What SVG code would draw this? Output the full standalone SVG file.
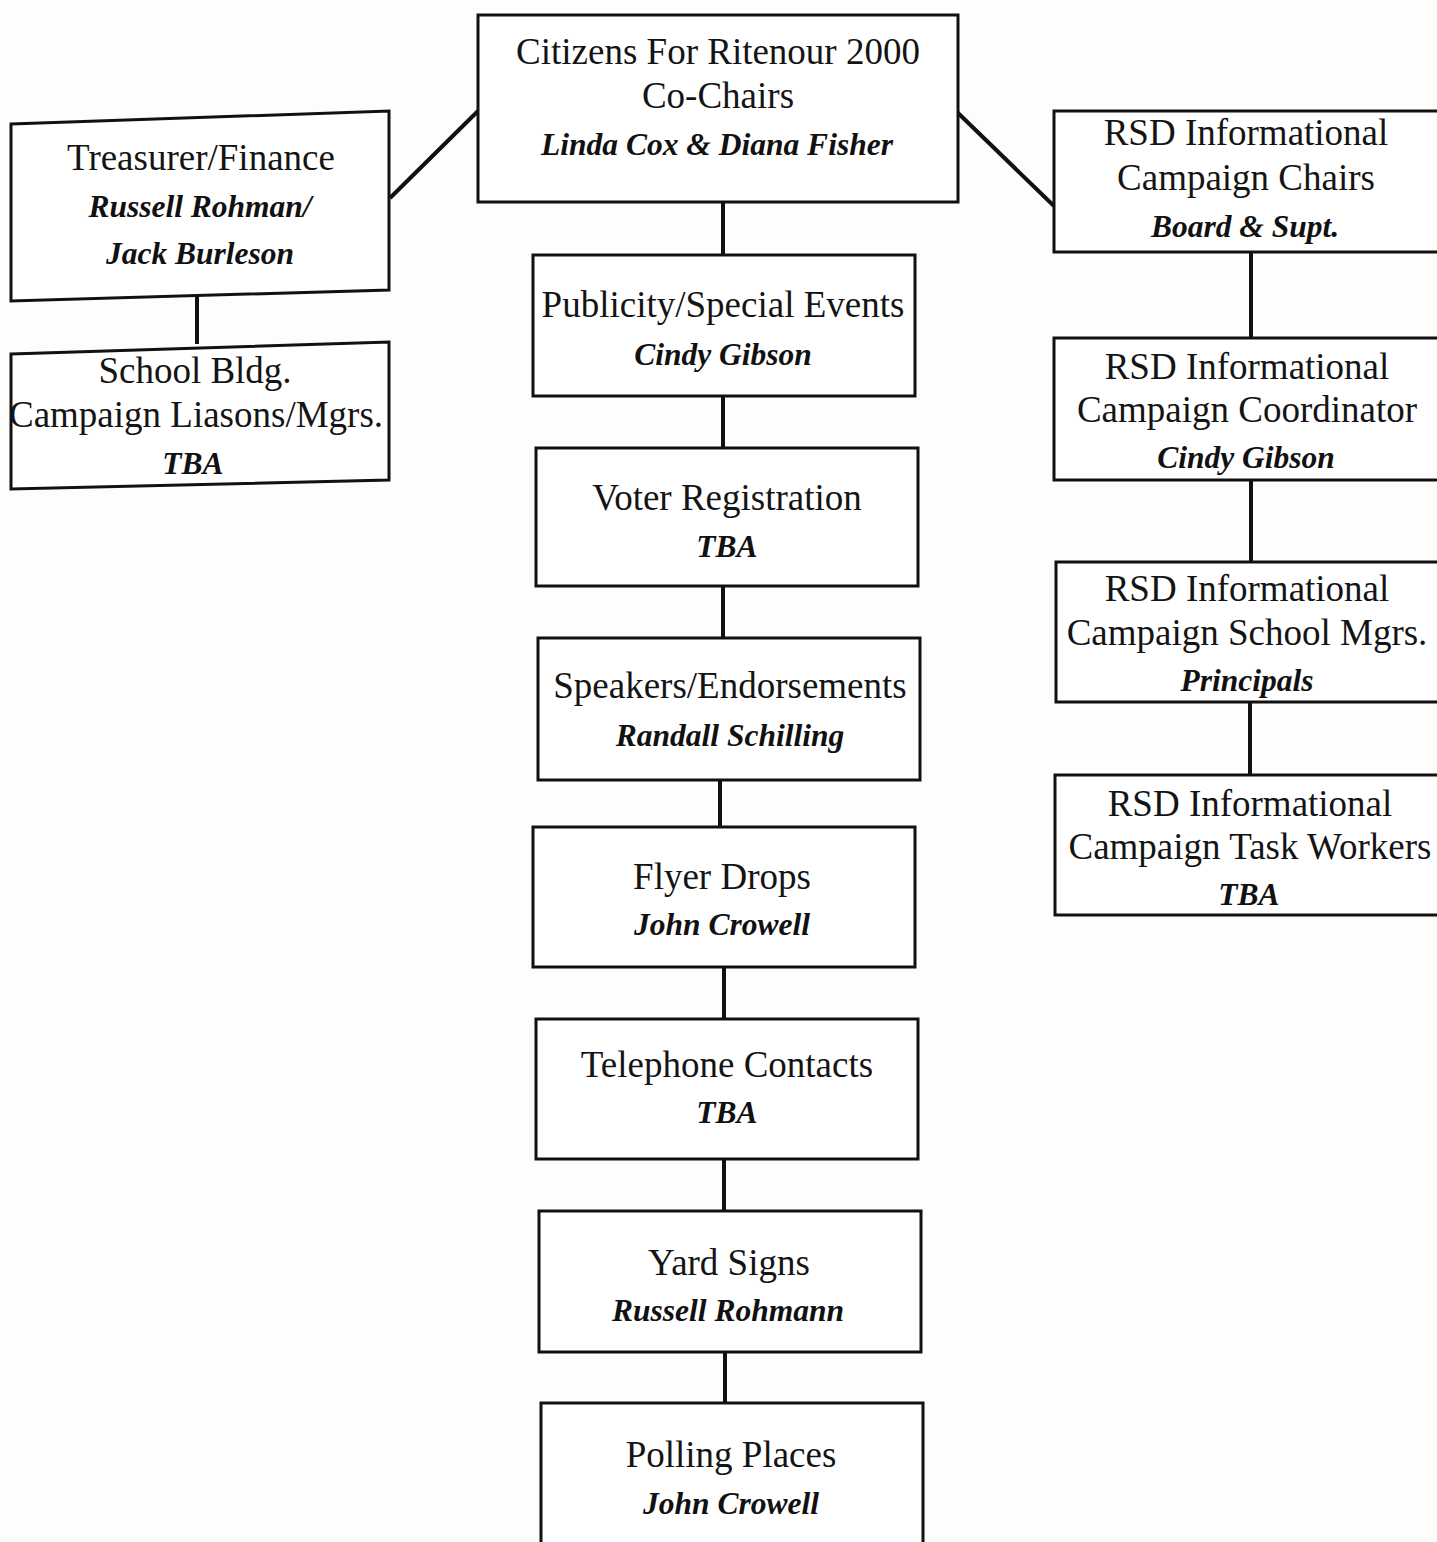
<svg xmlns="http://www.w3.org/2000/svg" width="1437" height="1542" viewBox="0 0 1437 1542">
<style>
.box{fill:#ffffff;stroke:#111;stroke-width:3}
.t{font-family:"Liberation Serif","Times New Roman",serif;font-size:37px;fill:#141414;text-anchor:middle}
.n{font-family:"Liberation Serif","Times New Roman",serif;font-size:31.5px;font-weight:bold;font-style:italic;fill:#111;text-anchor:middle}
.c{stroke:#111;stroke-width:4;fill:none}
</style>
<rect x="0" y="0" width="1437" height="1542" fill="#fdfdfb"/>
<g id="connectors">
<line class="c" x1="390" y1="198" x2="478" y2="111"/>
<line class="c" x1="957" y1="112" x2="1054" y2="206"/>
<line class="c" x1="197" y1="291" x2="197" y2="344"/>
<line class="c" x1="723" y1="202" x2="723" y2="255"/>
<line class="c" x1="723" y1="396" x2="723" y2="448"/>
<line class="c" x1="723" y1="586" x2="723" y2="638"/>
<line class="c" x1="720" y1="780" x2="720" y2="827"/>
<line class="c" x1="724" y1="967" x2="724" y2="1019"/>
<line class="c" x1="724" y1="1159" x2="724" y2="1211"/>
<line class="c" x1="725" y1="1352" x2="725" y2="1403"/>
<line class="c" x1="1251" y1="252" x2="1251" y2="338"/>
<line class="c" x1="1251" y1="480" x2="1251" y2="562"/>
<line class="c" x1="1250" y1="702" x2="1250" y2="775"/>
</g>
<g id="cochairs">
<rect class="box" x="478" y="15" width="480" height="187"/>
<text class="t" x="718" y="64">Citizens For Ritenour 2000</text>
<text class="t" x="718" y="108">Co-Chairs</text>
<text class="n" x="717" y="155">Linda Cox &amp; Diana Fisher</text>
</g>
<g id="treasurer">
<polygon class="box" points="11,124 389,111 389,290 11,301"/>
<text class="t" x="201" y="170">Treasurer/Finance</text>
<text class="n" x="200" y="217">Russell Rohman/</text>
<text class="n" x="200" y="264">Jack Burleson</text>
</g>
<g id="schoolbldg">
<polygon class="box" points="11,354 389,342 389,480 11,489"/>
<text class="t" x="195" y="383">School Bldg.</text>
<text class="t" x="196" y="427">Campaign Liasons/Mgrs.</text>
<text class="n" x="193" y="474">TBA</text>
</g>
<g id="publicity">
<rect class="box" x="533" y="255" width="382" height="141"/>
<text class="t" x="723" y="317">Publicity/Special Events</text>
<text class="n" x="723" y="365">Cindy Gibson</text>
</g>
<g id="voter">
<rect class="box" x="536" y="448" width="382" height="138"/>
<text class="t" x="727" y="510">Voter Registration</text>
<text class="n" x="727" y="557">TBA</text>
</g>
<g id="speakers">
<rect class="box" x="538" y="638" width="382" height="142"/>
<text class="t" x="730" y="698">Speakers/Endorsements</text>
<text class="n" x="730" y="746">Randall Schilling</text>
</g>
<g id="flyer">
<rect class="box" x="533" y="827" width="382" height="140"/>
<text class="t" x="722" y="889">Flyer Drops</text>
<text class="n" x="722" y="935">John Crowell</text>
</g>
<g id="telephone">
<rect class="box" x="536" y="1019" width="382" height="140"/>
<text class="t" x="727" y="1077">Telephone Contacts</text>
<text class="n" x="727" y="1123">TBA</text>
</g>
<g id="yardsigns">
<rect class="box" x="539" y="1211" width="382" height="141"/>
<text class="t" x="729" y="1275">Yard Signs</text>
<text class="n" x="728" y="1321">Russell Rohmann</text>
</g>
<g id="polling">
<rect class="box" x="541" y="1403" width="382" height="150"/>
<text class="t" x="731" y="1467">Polling Places</text>
<text class="n" x="731" y="1514">John Crowell</text>
</g>
<g id="rsdchairs">
<rect class="box" x="1054" y="111" width="400" height="141"/>
<text class="t" x="1246" y="145">RSD Informational</text>
<text class="t" x="1246" y="190">Campaign Chairs</text>
<text class="n" x="1245" y="237">Board &amp; Supt.</text>
</g>
<g id="rsdcoord">
<rect class="box" x="1054" y="338" width="400" height="142"/>
<text class="t" x="1247" y="379">RSD Informational</text>
<text class="t" x="1247" y="422">Campaign Coordinator</text>
<text class="n" x="1246" y="468">Cindy Gibson</text>
</g>
<g id="rsdschool">
<rect class="box" x="1056" y="562" width="400" height="140"/>
<text class="t" x="1247" y="601">RSD Informational</text>
<text class="t" x="1247" y="645">Campaign School Mgrs.</text>
<text class="n" x="1247" y="691">Principals</text>
</g>
<g id="rsdtask">
<rect class="box" x="1055" y="775" width="400" height="140"/>
<text class="t" x="1250" y="816">RSD Informational</text>
<text class="t" x="1250" y="859">Campaign Task Workers</text>
<text class="n" x="1249" y="905">TBA</text>
</g>
</svg>
